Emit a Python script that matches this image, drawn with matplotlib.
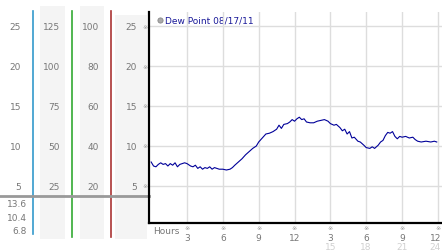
import matplotlib
matplotlib.use("Agg")
import matplotlib.pyplot as plt

# dew point readings (hours since midnight, deg C)
hours = [0.0, 0.2, 0.4, 0.6, 0.8, 1.0, 1.2, 1.4, 1.6, 1.8, 2.0, 2.2, 2.4, 2.6, 2.8,
         3.0, 3.3, 3.5, 3.7, 3.9, 4.1, 4.3, 4.5, 4.7, 4.9, 5.1, 5.3, 5.5, 5.7,
         6.0, 6.3, 6.6, 6.8, 7.0, 7.3, 7.6, 7.9, 8.2, 8.5, 8.8, 9.0, 9.3, 9.6,
         9.9, 10.2, 10.5, 10.7, 10.9, 11.1, 11.4, 11.6, 11.8, 12.0, 12.2, 12.4,
         12.6, 12.8, 13.0, 13.3, 13.6, 13.9, 14.2, 14.5, 14.8, 15.0, 15.3, 15.5,
         15.8, 16.0, 16.2, 16.4, 16.6, 16.8, 17.0, 17.3, 17.5, 17.8, 18.0, 18.3,
         18.5, 18.7, 19.0, 19.2, 19.4, 19.6, 19.8, 20.0, 20.2, 20.4, 20.6, 20.8,
         21.0, 21.3, 21.6, 21.9, 22.1, 22.3, 22.6, 23.0, 23.4, 23.7, 23.9]
dewpoint = [8.0, 7.5, 7.4, 7.7, 7.9, 7.7, 7.8, 7.5, 7.8, 7.6, 7.9, 7.4, 7.7, 7.8, 7.9,
            7.8, 7.5, 7.4, 7.6, 7.2, 7.4, 7.1, 7.3, 7.2, 7.4, 7.1, 7.3, 7.2, 7.1,
            7.1, 7.0, 7.1, 7.3, 7.6, 8.0, 8.4, 8.9, 9.3, 9.7, 10.0, 10.5, 11.0, 11.5,
            11.6, 11.8, 12.1, 12.6, 12.2, 12.7, 12.8, 13.0, 13.3, 13.1, 13.4, 13.6,
            13.3, 13.4, 13.0, 12.9, 12.9, 13.1, 13.2, 13.3, 13.1, 12.8, 12.6, 12.7,
            12.3, 11.9, 12.1, 11.5, 11.8, 11.0, 11.1, 10.6, 10.5, 10.1, 9.8, 9.7,
            9.9, 9.7, 10.1, 10.5, 10.7, 11.3, 11.7, 11.6, 11.8, 11.2, 10.9, 11.2,
            11.1, 11.2, 11.0, 11.1, 10.8, 10.6, 10.5, 10.6, 10.5, 10.6, 10.5]

y_ticks = [25, 20, 15, 10, 5]
col_labels = [["25", "20", "15", "10", "5"],
              ["125", "100", "75", "50", "25"],
              ["100", "80", "60", "40", "20"],
              ["25", "20", "15", "10", "5"]]
low_labels = ["13.6", "10.4", "6.8"]
hour_ticks = [3, 6, 9, 12, 15, 18, 21, 24]
hour_labels = ["3", "6", "9", "12", "3", "6", "9", "12"]
hour_labels2 = ["15", "18", "21", "24"]

W, H = 442, 253
fig = plt.figure(figsize=(W / 100, H / 100), dpi=100)

# pixel-space background axes for the side panels and labels
bg = fig.add_axes([0, 0, 1, 1], zorder=0)
bg.set_xlim(0, W)
bg.set_ylim(H, 0)
bg.axis("off")

# main plot: left edge x=149px, bottom y=224px, top y=13px
ax = fig.add_axes([149 / W, (H - 224) / H, (W - 149) / W, (224 - 13) / H], zorder=1)
ax.patch.set_alpha(0)
ax.set_xlim(-0.18, 24.34)
ax.set_ylim(0.375, 26.75)
for h in hour_ticks:
    ax.axvline(h, color="#dddddd", lw=1, zorder=0)
for v in y_ticks:
    ax.axhline(v, color="#dddddd", lw=1, zorder=0)
ax.plot(hours, dewpoint, color="#000099", lw=0.8)
ax.set_xticks([])
ax.set_yticks([])
for s in ["top", "right"]:
    ax.spines[s].set_visible(False)
for s in ["left", "bottom"]:
    ax.spines[s].set_color("black")
    ax.spines[s].set_linewidth(1.6)


def ypx(v):
    return 147 - (v - 10) * 8


def xpx(h):
    return 151.1 + h * 11.95


txt = dict(color="#777777", fontsize=6.5, va="center")
mark = dict(ha="center", va="center", fontsize=4.5, color="#999999")

# shaded columns
for x0, x1, y0 in [(40, 65, 7), (80, 104, 7), (115, 147, 16)]:
    bg.add_patch(plt.Rectangle((x0, y0), x1 - x0, 240 - y0, color="#f4f4f4", lw=0))

# coloured separators
for x, c, y1 in [(33, "#3399cc", 235), (72, "#33aa33", 238), (111, "#aa3333", 238)]:
    bg.plot([x, x], [12, y1], color=c, lw=1.2)

bg.plot([0, 149], [197, 197], color="#999999", lw=2)

col_x = [21, 60, 99, 137]
for cx, labels in zip(col_x, col_labels):
    for v, lab in zip(y_ticks, labels):
        bg.text(cx, ypx(v), lab, ha="right", **txt)
for v in y_ticks:
    bg.text(145, ypx(v), "\u203b", **mark)

for i, lab in enumerate(low_labels):
    bg.text(27, 205 + i * 13.5, lab, ha="right", **txt)

# hour axis labels
bg.text(153, 232, "Hours", ha="left", **txt)
for h, lab in zip(hour_ticks, hour_labels):
    bg.text(xpx(h), 229, "\u203b", **mark)
    if h == 24:
        bg.text(441, 238.5, lab, ha="right", **txt)
    else:
        bg.text(xpx(h), 238.5, lab, ha="center", **txt)
for h, lab in zip(hour_ticks[4:], hour_labels2):
    if h == 24:
        bg.text(441, 248, lab, ha="right", color="#d0d0d0", fontsize=6.5, va="center")
    else:
        bg.text(xpx(h), 248, lab, ha="center", color="#d0d0d0", fontsize=6.5, va="center")

# legend
bg.scatter([160], [21], s=14, color="#aaaaaa", edgecolor="#888888", lw=0.6, zorder=5)
bg.text(165, 21, "Dew Point 08/17/11", ha="left", va="center", color="#1a1a99", fontsize=6.5, zorder=5)

fig.savefig("out.png", dpi=100)
